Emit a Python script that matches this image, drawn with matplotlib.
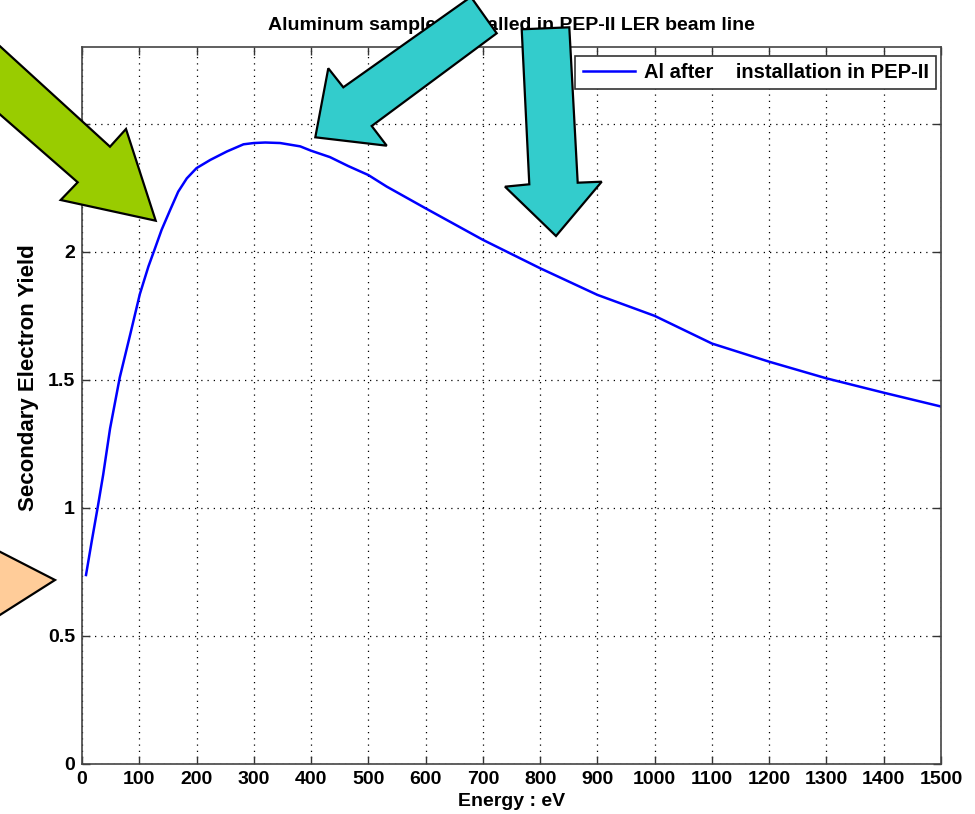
import matplotlib
matplotlib.use('Agg')
import matplotlib.pyplot as plt
from matplotlib.patches import Polygon

plt.rcParams['font.family'] = ['Liberation Sans', 'DejaVu Sans']

# secondary electron yield curve, Al sample after installation
energy_ev = [7, 17, 28, 37, 49, 66, 85, 101, 116, 127.5, 139, 154, 168, 183,
             200, 224, 253, 282, 300, 320, 346, 381, 400, 433, 465, 500, 532,
             600, 700, 800, 900, 1000, 1100, 1200, 1300, 1400, 1500]
sey = [0.738, 0.87, 1.01, 1.13, 1.31, 1.51, 1.685, 1.835, 1.943, 2.014, 2.086,
       2.164, 2.235, 2.287, 2.327, 2.359, 2.392, 2.42, 2.425, 2.427, 2.425,
       2.412, 2.395, 2.37, 2.335, 2.30, 2.255, 2.17, 2.047, 1.936, 1.832,
       1.75, 1.642, 1.571, 1.506, 1.45, 1.396]

x_ticks = list(range(0, 1501, 100))
y_ticks = [0, 0.5, 1, 1.5, 2, 2.5]
y_tick_labels = ['0', '0.5', '1', '1.5', '2', '2.5']

W, H = 975, 814
fig = plt.figure(figsize=(W / 100, H / 100), dpi=100)
ax = fig.add_axes([82 / W, 1 - 764 / H, (941 - 82) / W, (764 - 47) / H])

ax.plot(energy_ev, sey, color='#0000ff', lw=1.8,
        label='Al after    installation in PEP-II')

ax.set_xlim(0, 1500)
ax.set_ylim(0, 2.8)
ax.set_xticks(x_ticks)
ax.set_yticks(y_ticks)
ax.set_yticklabels(y_tick_labels)
ax.tick_params(direction='in', length=6, width=1, top=True, right=True,
               labelsize=14, colors='#333333', labelcolor='black', pad=5)
for lab in ax.get_xticklabels() + ax.get_yticklabels():
    lab.set_fontweight('bold')
for s in ax.spines.values():
    s.set_color('#444444')
    s.set_linewidth(1.2)
ax.grid(True, color='black', linestyle=(0, (1, 4)), linewidth=0.9)

ax.set_title('Aluminum samples installed in PEP-II LER beam line',
             fontsize=14, fontweight='bold', pad=12)
ax.set_xlabel('Energy : eV', fontsize=14, fontweight='bold', labelpad=4)
ax.set_ylabel('Secondary Electron Yield', fontsize=16, fontweight='bold')
ax.yaxis.set_label_coords(39 / W, 1 - 378 / H, transform=fig.transFigure)

leg = ax.legend(loc='upper right', bbox_to_anchor=(936 / W, 1 - 56 / H),
                bbox_transform=fig.transFigure, borderaxespad=0,
                prop={'size': 14.5, 'weight': 'bold'}, frameon=True,
                fancybox=False, handlelength=2.6, borderpad=0.35,
                handletextpad=0.45)
leg.get_frame().set_edgecolor('#333333')
leg.get_frame().set_linewidth(1.2)
leg.get_frame().set_alpha(1)


def px(points):
    return [(x / W, 1 - y / H) for x, y in points]


# callout shapes laid over the figure, in pixel positions
green_arrow = [(-20, 28), (110, 146.7), (126, 129), (155.7, 220.7),
               (60.7, 200), (77.7, 182.3), (-20, 97)]
cyan_diag = [(470.9, -3.1), (496.7, 33.3), (371.7, 126), (386.7, 145.7),
             (315.3, 137.3), (328.3, 68.3), (343.3, 87.3)]
cyan_down = [(521.7, 29.3), (569.3, 27.3), (577.7, 182.7), (601.7, 181.7),
             (556, 236), (505, 186.7), (529.3, 184.3)]
orange_tri = [(-60, 521), (55, 580), (-60, 653)]

for pts, color in [(green_arrow, '#99cc00'), (cyan_diag, '#33cccc'),
                   (cyan_down, '#33cccc'), (orange_tri, '#ffcc99')]:
    fig.patches.append(Polygon(px(pts), closed=True, facecolor=color,
                               edgecolor='black', linewidth=1.6,
                               transform=fig.transFigure, figure=fig,
                               zorder=10))

fig.savefig('out.png', dpi=100)
